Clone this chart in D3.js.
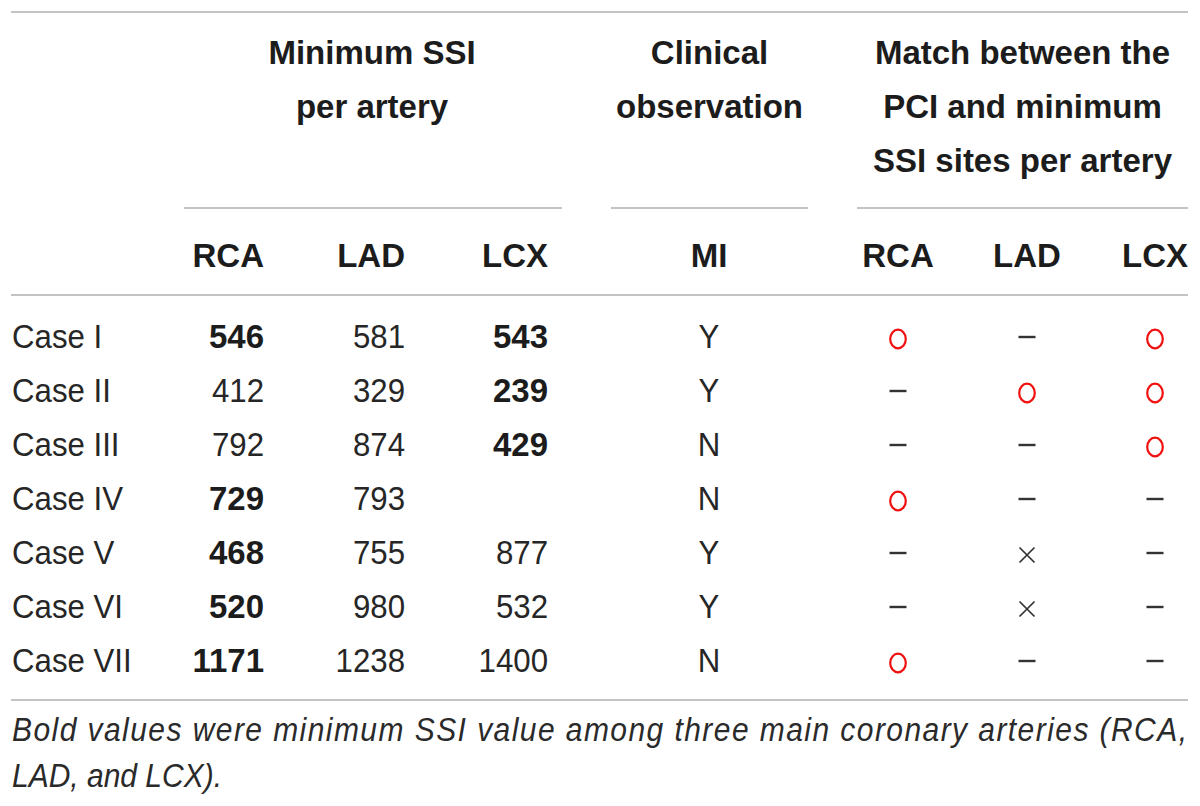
<!DOCTYPE html>
<html>
<head>
<meta charset="utf-8">
<script src="https://cdn.jsdelivr.net/npm/d3@7/dist/d3.min.js"></script>
<style>
  html, body { margin: 0; padding: 0; background: #fff; }
  svg { display: block; }
  text { font-family: "Liberation Sans", Arial, Helvetica, sans-serif; }
</style>
</head>
<body>
<svg id="chart" width="1200" height="806"></svg>
<script>
// table content
var cases = ["Case I", "Case II", "Case III", "Case IV", "Case V", "Case VI", "Case VII"];
var rcaSSI = [546, 412, 792, 729, 468, 520, 1171];
var ladSSI = [581, 329, 874, 793, 755, 980, 1238];
var lcxSSI = [543, 239, 429, null, 877, 532, 1400];
var boldCols = [["RCA", "LCX"], ["LCX"], ["LCX"], ["RCA"], ["RCA"], ["RCA"], ["RCA"]];
var miObserved = ["Y", "Y", "N", "N", "Y", "Y", "N"];
var matchRCA = ["o", "–", "–", "o", "–", "–", "o"];
var matchLAD = ["–", "o", "–", "–", "×", "×", "–"];
var matchLCX = ["o", "o", "o", "–", "–", "–", "–"];

var groupHeaders = [
  { key: "ssi", lines: ["Minimum SSI", "per artery"] },
  { key: "clin", lines: ["Clinical", "observation"] },
  { key: "match", lines: ["Match between the", "PCI and minimum", "SSI sites per artery"] }
];
var subHeaders = [
  { key: "ssiRCA", label: "RCA" }, { key: "ssiLAD", label: "LAD" }, { key: "ssiLCX", label: "LCX" },
  { key: "mi", label: "MI" },
  { key: "mRCA", label: "RCA" }, { key: "mLAD", label: "LAD" }, { key: "mLCX", label: "LCX" }
];
var footnote = ["Bold values were minimum SSI value among three main coronary arteries (RCA,",
                "LAD, and LCX)."];

var svg = d3.select("#chart");
var left = 11, right = 1188;
var ink = "#262626", inkBold = "#1c1c1c", rule = "#c4c4c4", red = "#f01010", mark = "#333";
var fs = 30, stretch = 1.1;

// column anchors
var colX = d3.scaleOrdinal()
  .domain(["ssiRCA", "ssiLAD", "ssiLCX", "mi", "mRCA", "mLAD", "mLCX"])
  .range([264, 405, 548, 709, 898, 1027, 1155]);
var colAnchor = { ssiRCA: "end", ssiLAD: "end", ssiLCX: "end", mi: "middle", mRCA: "middle", mLAD: "middle", mLCX: "middle" };
var groupSpan = { ssi: [184, 562], clin: [611, 808], match: [857, 1188] };

var rowY = d3.scalePoint().domain(cases).range([336, 660]);
var headLineY = d3.scalePoint().domain([0, 1, 2]).range([52, 160]);

function addText(x, y, str, opts) {
  opts = opts || {};
  var sx = opts.bold ? 1.1 : (opts.italic ? 1 : 1.04);
  // baseline placed so the cap height is centred on y
  return svg.append("text")
    .attr("transform", "translate(" + x + "," + (y + fs * 0.358 * stretch) + ") scale(" + sx + "," + stretch + ")")
    .attr("text-anchor", opts.anchor || "start")
    .attr("font-size", fs)
    .attr("font-weight", opts.bold ? "bold" : "normal")
    .attr("font-style", opts.italic ? "italic" : "normal")
    .attr("fill", opts.fill || ink)
    .text(str);
}

function hline(x1, x2, y, w) {
  svg.append("line").attr("x1", x1).attr("x2", x2).attr("y1", y).attr("y2", y)
    .attr("stroke", rule).attr("stroke-width", w || 2);
}

// rules
hline(left, right, 12);
Object.keys(groupSpan).forEach(function (k) { hline(groupSpan[k][0], groupSpan[k][1], 208); });
hline(left, right, 295);
hline(left, right, 700);

// group headers
groupHeaders.forEach(function (g) {
  var cx = (groupSpan[g.key][0] + groupSpan[g.key][1]) / 2;
  if (g.key === "ssi") cx = 372;
  g.lines.forEach(function (ln, i) {
    addText(cx, headLineY(i), ln, { anchor: "middle", bold: true, fill: inkBold });
  });
});

// sub headers
subHeaders.forEach(function (s) {
  addText(colX(s.key), 255, s.label, { anchor: colAnchor[s.key], bold: true, fill: inkBold });
});

// body rows
cases.forEach(function (c, i) {
  var y = rowY(c);
  addText(left + 1, y, c);
  [["ssiRCA", "RCA", rcaSSI], ["ssiLAD", "LAD", ladSSI], ["ssiLCX", "LCX", lcxSSI]].forEach(function (col) {
    var v = col[2][i];
    if (v == null) return;
    var isBold = boldCols[i].indexOf(col[1]) >= 0;
    addText(colX(col[0]), y, String(v), { anchor: "end", bold: isBold, fill: isBold ? inkBold : ink });
  });
  addText(colX("mi"), y, miObserved[i], { anchor: "middle" });
  [["mRCA", matchRCA], ["mLAD", matchLAD], ["mLCX", matchLCX]].forEach(function (col) {
    var s = col[1][i];
    var x = colX(col[0]);
    if (s === "o") {
      svg.append("ellipse").attr("cx", x).attr("cy", y + 3)
        .attr("rx", 7.8).attr("ry", 9.3)
        .attr("fill", "none").attr("stroke", red).attr("stroke-width", 2.2);
    } else if (s === "×") {
      var h = 7.5;
      svg.append("path")
        .attr("d", "M" + (x - h) + "," + (y + 3 - h) + "L" + (x + h) + "," + (y + 3 + h) +
                   "M" + (x + h) + "," + (y + 3 - h) + "L" + (x - h) + "," + (y + 3 + h))
        .attr("stroke", mark).attr("stroke-width", 1.7).attr("fill", "none");
    } else {
      svg.append("line").attr("x1", x - 8.5).attr("x2", x + 8.5)
        .attr("y1", y + 1).attr("y2", y + 1)
        .attr("stroke", mark).attr("stroke-width", 2.4);
    }
  });
});

// footnote
footnote.forEach(function (ln, i) {
  var t = addText(left + 1, 729 + i * 46, ln, { italic: true, fill: "#2a2a2a" });
  if (i === 0) t.attr("textLength", 1175).attr("lengthAdjust", "spacing");
});
</script>
</body>
</html>
